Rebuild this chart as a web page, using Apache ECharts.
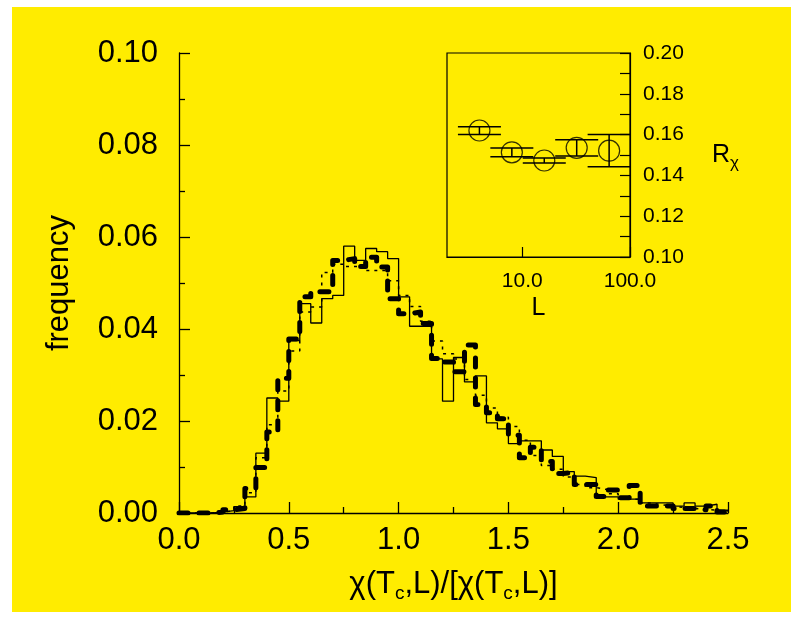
<!DOCTYPE html>
<html>
<head>
<meta charset="utf-8">
<title>Susceptibility distribution</title>
<script src="https://cdn.jsdelivr.net/npm/echarts@6/dist/echarts.min.js"></script>
<style>
  html, body { margin: 0; padding: 0; background: #ffffff; }
  #chart { width: 803px; height: 628px; }
</style>
</head>
<body>
<div id="chart"></div>
<script>
// Histogram bin edges (bin width 0.05)
const binEdges = [
  0.00, 0.05, 0.10, 0.15, 0.20, 0.25, 0.30, 0.35, 0.40, 0.45,
  0.50, 0.55, 0.60, 0.65, 0.70, 0.75, 0.80, 0.85, 0.90, 0.95,
  1.00, 1.05, 1.10, 1.15, 1.20, 1.25, 1.30, 1.35, 1.40, 1.45,
  1.50, 1.55, 1.60, 1.65, 1.70, 1.75, 1.80, 1.85, 1.90, 1.95,
  2.00, 2.05, 2.10, 2.15, 2.20, 2.25, 2.30, 2.35, 2.40, 2.45,
  2.50
];

// Frequencies per bin, thin solid histogram
const freqSolid = [
  0.0000, 0.0000, 0.0000, 0.0002, 0.0005, 0.0014, 0.0035, 0.0130, 0.0250, 0.0243,
  0.0375, 0.0455, 0.0413, 0.0466, 0.0473, 0.0580, 0.0549, 0.0575, 0.0568, 0.0553,
  0.0470, 0.0406, 0.0406, 0.0335, 0.0243, 0.0338, 0.0285, 0.0298, 0.0196, 0.0183,
  0.0151, 0.0157, 0.0157, 0.0137, 0.0123, 0.0090, 0.0080, 0.0077, 0.0035, 0.0035,
  0.0030, 0.0030, 0.0022, 0.0022, 0.0022, 0.0015, 0.0022, 0.0015, 0.0019, 0.0006
];

// Frequencies per bin, dotted histogram
const freqDotted = [
  0.0000, 0.0000, 0.0000, 0.0002, 0.0005, 0.0015, 0.0044, 0.0120, 0.0192, 0.0265,
  0.0352, 0.0437, 0.0448, 0.0523, 0.0541, 0.0536, 0.0535, 0.0527, 0.0527, 0.0505,
  0.0473, 0.0449, 0.0417, 0.0374, 0.0346, 0.0335, 0.0290, 0.0256, 0.0228, 0.0208,
  0.0188, 0.0158, 0.0125, 0.0103, 0.0095, 0.0078, 0.0062, 0.0055, 0.0051, 0.0042,
  0.0035, 0.0030, 0.0022, 0.0018, 0.0015, 0.0012, 0.0010, 0.0008, 0.0006, 0.0004
];

// Frequencies per bin, thick dashed histogram
const freqDashed = [
  0.0000, 0.0000, 0.0000, 0.0002, 0.0007, 0.0010, 0.0053, 0.0099, 0.0176, 0.0293,
  0.0378, 0.0470, 0.0481, 0.0481, 0.0549, 0.0553, 0.0536, 0.0556, 0.0535, 0.0466,
  0.0433, 0.0437, 0.0412, 0.0336, 0.0328, 0.0307, 0.0365, 0.0236, 0.0218, 0.0205,
  0.0169, 0.0120, 0.0143, 0.0112, 0.0086, 0.0088, 0.0062, 0.0062, 0.0036, 0.0050,
  0.0033, 0.0060, 0.0015, 0.0015, 0.0015, 0.0010, 0.0010, 0.0007, 0.0015, 0.0002
];

// Inset: ratio R_chi versus system size L, with error bars
const sizesL = [4, 8, 16, 32, 64];
const ratioR = [0.1620, 0.1513, 0.1473, 0.1535, 0.1521];
const ratioErr = [0.0019, 0.0021, 0.0012, 0.0040, 0.0079];

const FONT = "'Liberation Sans', Arial, Helvetica, sans-serif";

// Step-histogram points: one point at each left edge, plus the closing right edge
function histPoints(values) {
  const pts = values.map((v, i) => [binEdges[i], v]);
  pts.push([binEdges[values.length], values[values.length - 1]]);
  return pts;
}

const chart = echarts.init(document.getElementById('chart'), null, { renderer: 'canvas' });

const option = {
  animation: false,
  backgroundColor: '#ffffff',
  textStyle: { fontFamily: FONT, color: '#000' },
  graphic: [
    {
      type: 'rect', z: -100, silent: true,
      shape: { x: 12, y: 7, width: 779, height: 605 },
      style: { fill: '#FFEC00' }
    }
  ],
  grid: [
    { left: 179, right: 75, top: 53, bottom: 115, containLabel: false },
    {
      left: 447, top: 53, width: 183, height: 204, containLabel: false,
      show: true, borderColor: '#000', borderWidth: 1.2, backgroundColor: 'transparent'
    }
  ],
  xAxis: [
    {
      gridIndex: 0, type: 'value', min: 0, max: 2.5, interval: 0.5,
      name: '{t|χ(T}{s|c}{t|,L)/[χ(T}{s|c}{t|,L)]}',
      nameLocation: 'middle', nameGap: 52,
      nameTextStyle: {
        fontFamily: FONT, color: '#000',
        rich: {
          t: { fontSize: 31, fontFamily: FONT, color: '#000', lineHeight: 38 },
          s: { fontSize: 19, fontFamily: FONT, color: '#000', lineHeight: 12, verticalAlign: 'bottom' }
        }
      },
      axisLine: { show: true, lineStyle: { color: '#000', width: 1.3 } },
      axisTick: { show: true, inside: true, length: 11, lineStyle: { color: '#000', width: 1.3 } },
      minorTick: { show: true, splitNumber: 2, length: 6, lineStyle: { color: '#000', width: 1.3 } },
      axisLabel: {
        show: true, margin: 12, fontSize: 31, fontFamily: FONT, color: '#000',
        formatter: v => v.toFixed(1)
      },
      splitLine: { show: false }
    },
    {
      gridIndex: 1, type: 'log', logBase: 10, min: 2, max: 100,
      name: 'L', nameLocation: 'middle', nameGap: 39,
      nameTextStyle: { fontSize: 25, fontFamily: FONT, color: '#000' },
      axisLine: { show: true, lineStyle: { color: '#000', width: 1.2 } },
      axisTick: { show: true, inside: true, length: 10, lineStyle: { color: '#000', width: 1.2 } },
      axisLabel: {
        show: true, margin: 14, fontSize: 21, fontFamily: FONT, color: '#000',
        showMinLabel: false,
        formatter: v => (Math.round(v * 10) / 10).toFixed(1)
      },
      splitLine: { show: false }
    }
  ],
  yAxis: [
    {
      gridIndex: 0, type: 'value', min: 0, max: 0.10, interval: 0.02,
      name: 'frequency', nameLocation: 'middle', nameGap: 104, nameRotate: 90,
      nameTextStyle: { fontSize: 31, fontFamily: FONT, color: '#000' },
      axisLine: { show: true, lineStyle: { color: '#000', width: 1.3 } },
      axisTick: { show: true, inside: true, length: 11, lineStyle: { color: '#000', width: 1.3 } },
      minorTick: { show: true, splitNumber: 2, length: 6, lineStyle: { color: '#000', width: 1.3 } },
      axisLabel: {
        show: true, margin: 21, fontSize: 31, fontFamily: FONT, color: '#000',
        formatter: v => v.toFixed(2)
      },
      splitLine: { show: false }
    },
    {
      gridIndex: 1, type: 'value', position: 'right', min: 0.10, max: 0.20, interval: 0.02,
      name: 'R{s|χ}', nameLocation: 'middle', nameGap: 82, nameRotate: 0,
      nameTextStyle: {
        fontSize: 25, fontFamily: FONT, color: '#000', align: 'left', lineHeight: 34,
        rich: { s: { fontSize: 17, fontFamily: FONT, color: '#000', lineHeight: 10, verticalAlign: 'bottom' } }
      },
      axisLine: { show: true, lineStyle: { color: '#000', width: 1.2 } },
      axisTick: { show: true, inside: true, length: 10, lineStyle: { color: '#000', width: 1.2 } },
      minorTick: { show: true, splitNumber: 2, length: 10, lineStyle: { color: '#000', width: 1.2 } },
      axisLabel: {
        show: true, margin: 13, fontSize: 21, fontFamily: FONT, color: '#000',
        formatter: v => v.toFixed(2)
      },
      splitLine: { show: false }
    }
  ],
  series: [
    {
      name: 'solid', type: 'line', xAxisIndex: 0, yAxisIndex: 0,
      step: 'end', symbol: 'none', z: 3,
      lineStyle: { color: '#000', width: 1.3, type: 'solid' },
      data: histPoints(freqSolid)
    },
    {
      name: 'dotted', type: 'line', xAxisIndex: 0, yAxisIndex: 0,
      step: 'end', symbol: 'none', z: 4,
      lineStyle: { color: '#000', width: 1.5, type: [3, 5] },
      data: histPoints(freqDotted)
    },
    {
      name: 'dashed', type: 'line', xAxisIndex: 0, yAxisIndex: 0,
      step: 'end', symbol: 'none', z: 5,
      lineStyle: { color: '#000', width: 5, type: [9, 11], cap: 'round', join: 'round' },
      data: histPoints(freqDashed)
    },
    {
      name: 'errors', type: 'custom', xAxisIndex: 1, yAxisIndex: 1, z: 6,
      encode: { x: 0, y: 1 },
      data: sizesL.map((L, i) => [L, ratioR[i], ratioErr[i]]),
      renderItem: function (params, api) {
        const x = api.value(0), y = api.value(1), e = api.value(2);
        const top = api.coord([x, y + e]);
        const bot = api.coord([x, y - e]);
        const hw = 21.5;
        const style = { stroke: '#000', lineWidth: 1.5, fill: null };
        return {
          type: 'group',
          children: [
            { type: 'line', shape: { x1: top[0], y1: top[1], x2: bot[0], y2: bot[1] }, style: style },
            { type: 'line', shape: { x1: top[0] - hw, y1: top[1], x2: top[0] + hw, y2: top[1] }, style: style },
            { type: 'line', shape: { x1: bot[0] - hw, y1: bot[1], x2: bot[0] + hw, y2: bot[1] }, style: style }
          ]
        };
      }
    },
    {
      name: 'ratio', type: 'scatter', xAxisIndex: 1, yAxisIndex: 1, z: 7,
      symbol: 'circle', symbolSize: 21,
      itemStyle: { color: 'rgba(0,0,0,0)', borderColor: '#000', borderWidth: 1.2 },
      data: sizesL.map((L, i) => [L, ratioR[i]])
    }
  ]
};

chart.setOption(option);
</script>
</body>
</html>
